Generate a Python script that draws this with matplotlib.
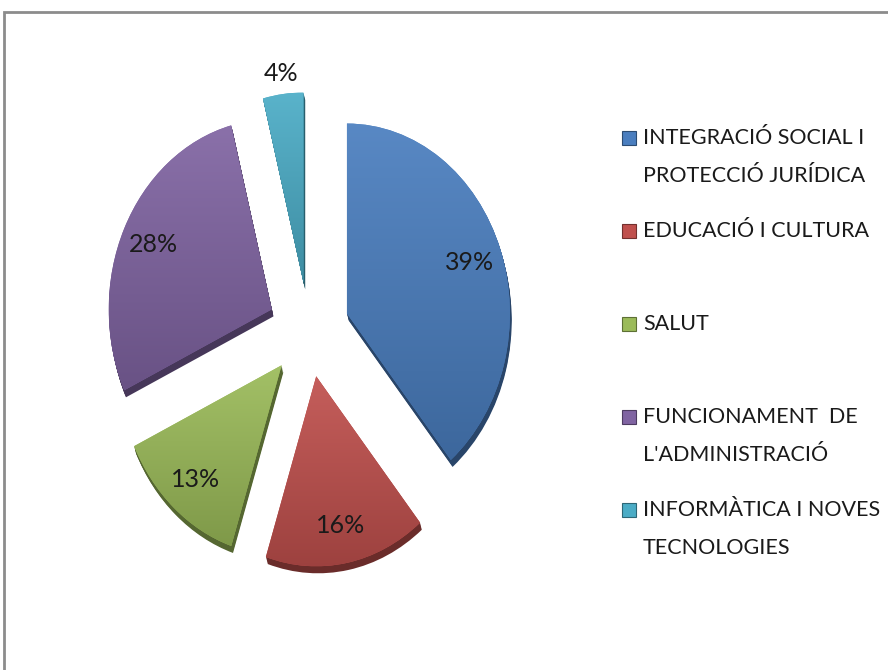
import numpy as np
import matplotlib.pyplot as plt
from matplotlib.colors import LinearSegmentedColormap, to_rgb
from matplotlib.patches import Rectangle, Wedge

categories = ["INTEGRACIÓ SOCIAL I\nPROTECCIÓ JURÍDICA", "EDUCACIÓ I CULTURA", "SALUT",
              "FUNCIONAMENT  DE\nL'ADMINISTRACIÓ", "INFORMÀTICA I NOVES\nTECNOLOGIES"]
shares = [39, 16, 13, 28, 4]
colors = ["#4a7ebf", "#c0504d", "#9bbb59", "#8064a2", "#4bacc6"]

font = ['Lato', 'DejaVu Sans']
W, H = 888, 670


def mix(c, other, t):
    c = np.array(to_rgb(c))
    return tuple(c * (1 - t) + np.array(other) * t)


fig = plt.figure(figsize=(W / 100, H / 100), dpi=100)
fig.patch.set_facecolor('white')

# frame of the chart area (cut off on right / bottom)
fig.add_artist(Rectangle((4 / W, -0.05), 1.2, (H - 12) / H + 0.05, transform=fig.transFigure,
                         fill=False, ec='#8c8c8c', lw=2))

ax = fig.add_axes([0.0905, 0.111, 0.514, 0.794])
wedges, texts, autotexts = ax.pie(shares, colors=colors, startangle=90, counterclock=False,
                                  explode=[0.25] * len(shares), autopct='%1.0f%%', pctdistance=0.8,
                                  wedgeprops=dict(linewidth=0),
                                  textprops=dict(fontsize=18, family=font, color='#1a1a1a'))

# pixel scale of the axes (radius 1 -> px)
sx = 0.514 * W / 2.8
sy = 0.794 * H / 2.8

for w, c in zip(wedges, colors):
    # bevel / extrusion under each slice
    dark = mix(c, (0, 0, 0), 0.45)
    for k in range(1, 8):
        s = Wedge((w.center[0] + 0.25 * k / sx, w.center[1] - k / sy), w.r, w.theta1, w.theta2,
                  color=dark, lw=0, zorder=0.5)
        ax.add_patch(s)
    # vertical gradient fill
    ext = w.get_path().get_extents()
    cmap = LinearSegmentedColormap.from_list('g', [mix(c, (0, 0, 0), 0.18), mix(c, (1, 1, 1), 0.08)])
    grad = np.linspace(0, 1, 256).reshape(-1, 1)
    im = ax.imshow(grad, cmap=cmap, origin='lower', aspect='auto',
                   extent=[ext.x0, ext.x1, ext.y0, ext.y1], zorder=1.1)
    im.set_clip_path(w)

# small slice: label outside
w = wedges[4]
ang = np.deg2rad((w.theta1 + w.theta2) / 2)
autotexts[4].set_position((w.center[0] + 1.11 * np.cos(ang), w.center[1] + 1.11 * np.sin(ang)))

ax.set_xlim(-1.4, 1.4)
ax.set_ylim(-1.4, 1.4)
ax.set_aspect('auto')
ax.axis('off')

# legend
top, step, line_h = 138, 93, 38
for i, (lab, c) in enumerate(zip(categories, colors)):
    y = top + i * step
    fig.add_artist(Rectangle((622 / W, 1 - (y + 7) / H), 14 / W, 14 / H, transform=fig.transFigure,
                             fc=c, ec=mix(c, (0, 0, 0), 0.4), lw=0.8))
    for j, line in enumerate(lab.split('\n')):
        fig.text(643 / W, 1 - (y + j * line_h) / H, line, fontsize=15.5, family=font,
                 va='center', ha='left', color='#1a1a1a')

fig.savefig('out.png', dpi=100)
